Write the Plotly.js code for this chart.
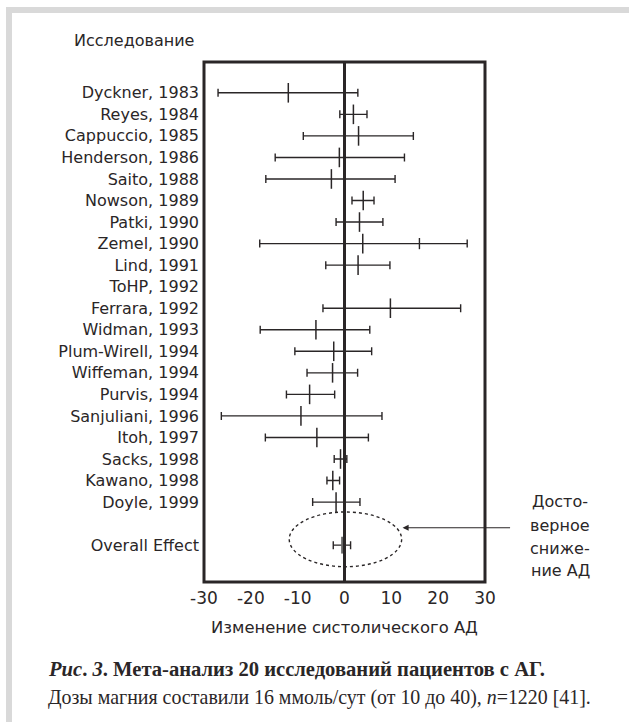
<!DOCTYPE html>
<html>
<head>
<meta charset="utf-8">
<script src="https://cdn.plot.ly/plotly-3.0.1.min.js"></script>
<style>
  html, body { margin: 0; padding: 0; background: #ffffff; }
  #chart { width: 629px; height: 722px; }
</style>
</head>
<body>
<div id="chart"></div>
<script>
// ---- Data ----
const studies = ["Dyckner, 1983","Reyes, 1984","Cappuccio, 1985","Henderson, 1986","Saito, 1988",
  "Nowson, 1989","Patki, 1990","Zemel, 1990","Lind, 1991","ToHP, 1992","Ferrara, 1992",
  "Widman, 1993","Plum-Wirell, 1994","Wiffeman, 1994","Purvis, 1994","Sanjuliani, 1996",
  "Itoh, 1997","Sacks, 1998","Kawano, 1998","Doyle, 1999"];
const estimate = [-12, 1.9, 3, -1.1, -2.8, 4, 3.2, 3.9, 2.9, null, 9.8, -6.1, -2.3, -2.55, -7.45, -9.3, -5.9, -0.85, -2.5, -1.8];
const lower    = [-27, -1, -8.8, -14.8, -16.8, 1.6, -1.8, -18.1, -4, null, -4.6, -18, -10.6, -8, -12.4, -26.3, -16.9, -2.2, -3.75, -6.8];
const upper    = [2.85, 4.8, 14.7, 12.8, 10.8, 6.3, 8.2, 26.2, 9.7, null, 24.8, 5.4, 5.8, 2.8, -2.1, 8, 5.1, 0.5, -1.05, 3.3];
const extraTickStudy = "Zemel, 1990";
const extraTickValue = 16;
const overallLabel = "Overall Effect";
const overallEstimate = -0.4;
const overallLower = -2.4;
const overallUpper = 1.3;
const xTickVals = [-30, -20, -10, 0, 10, 20, 30];
const xTickText = ["-30", "-20", "-10", "0", "10", "20", "30"];
const headerText = "Исследование";
const xTitleText = "Изменение систолического АД";
const noteLines = ["Досто-", "верное", "сниже-", "ние АД"];
const captionLine1 = "<b><i>Рис</i>. <i>3</i>. Мета-анализ 20 исследований пациентов с АГ.</b>";
const captionLine2 = "Дозы магния составили 16 ммоль/сут (от 10 до 40), <i>n</i>=1220 [41].";

// ---- Build ----
const rowIdx = studies.map((_, i) => i);
const overallIdx = studies.length + 1;
const plus = upper.map((u, i) => (u == null ? null : u - estimate[i]));
const minus = lower.map((l, i) => (l == null ? null : estimate[i] - l));

const ink = "#2a2627";
const sans = "DejaVu Sans, Arial, sans-serif";
const serif = "Liberation Serif, Times New Roman, serif";

// pixel -> paper helpers (plot area: x 204..485, y 62..582)
const L = 204, R = 485, T = 62, B = 582, W = 629, H = 722;
const px = v => (v - L) / (R - L);
const py = v => (B - v) / (B - T);

const traces = [
  {
    type: "scatter", mode: "markers",
    x: estimate, y: rowIdx,
    marker: { symbol: "line-ns-open", size: 14, color: ink, line: { width: 1.5, color: ink } },
    error_x: { type: "data", symmetric: false, array: plus, arrayminus: minus,
               color: ink, thickness: 1.4, width: 4 },
    hoverinfo: "x+y"
  },
  {
    type: "scatter", mode: "markers",
    x: [extraTickValue], y: [studies.indexOf(extraTickStudy)],
    marker: { symbol: "line-ns-open", size: 8, color: ink, line: { width: 1.4, color: ink } }
  },
  {
    type: "scatter", mode: "markers",
    x: [overallEstimate], y: [overallIdx],
    marker: { symbol: "line-ns-open", size: 12, color: "#666", line: { width: 3, color: "#666" } },
    error_x: { type: "data", symmetric: false, array: [overallUpper - overallEstimate],
               arrayminus: [overallEstimate - overallLower], color: ink, thickness: 1.4, width: 4 }
  }
];

const annotations = [
  { xref: "paper", yref: "paper", x: px(196), y: py(41), xanchor: "right", yanchor: "middle",
    text: headerText, showarrow: false, font: { family: sans, size: 16, color: ink } },
  // arrow
  { xref: "x", yref: "y", x: 12.4, y: 20.19, ax: 109, ay: 0, text: "", showarrow: true,
    arrowhead: 2, arrowsize: 1.1, arrowwidth: 1.1, arrowcolor: ink },
  { xref: "paper", yref: "paper", x: px(46), y: py(669), xanchor: "left", yanchor: "middle",
    text: captionLine1, showarrow: false, font: { family: serif, size: 20.6, color: ink } },
  { xref: "paper", yref: "paper", x: px(46), y: py(697), xanchor: "left", yanchor: "middle",
    text: captionLine2, showarrow: false, font: { family: serif, size: 19.9, color: ink } }
];
const noteY = [501, 525, 548, 570];
noteLines.forEach((t, i) => annotations.push({
  xref: "paper", yref: "paper", x: px(560), y: py(noteY[i]), xanchor: "center", yanchor: "middle",
  text: t, showarrow: false, font: { family: sans, size: 16, color: ink }
}));

const frame = "#d9d9d9";
const shapes = [
  // grey page frame (L-shape)
  { type: "rect", xref: "paper", yref: "paper", x0: px(6), x1: px(12), y0: py(H), y1: py(7),
    fillcolor: frame, line: { width: 0 }, layer: "below" },
  { type: "rect", xref: "paper", yref: "paper", x0: px(6), x1: px(W), y0: py(13), y1: py(7),
    fillcolor: frame, line: { width: 0 }, layer: "below" },
  // plot box
  { type: "rect", xref: "paper", yref: "paper", x0: 0, x1: 1, y0: 0, y1: 1,
    line: { width: 3, color: ink } },
  // zero line
  { type: "line", xref: "x", yref: "paper", x0: 0, x1: 0, y0: 0, y1: 1,
    line: { width: 3, color: ink } },
  // dotted ellipse around overall effect
  { type: "circle", xref: "x", yref: "y", x0: -11.8, x1: 12.2, y0: 19.46, y1: 22.0,
    line: { width: 1.4, color: ink, dash: "dot" } }
];

const layout = {
  width: W, height: H,
  margin: { l: L, r: W - R, t: T, b: H - B, pad: 0 },
  paper_bgcolor: "#ffffff", plot_bgcolor: "#ffffff",
  showlegend: false,
  xaxis: {
    range: [-30, 30], tickvals: xTickVals, ticktext: xTickText,
    showgrid: false, zeroline: false, showline: false, ticks: "",
    tickfont: { family: sans, size: 17, color: ink },
    ticklabelstandoff: 4,
    title: { text: xTitleText, font: { family: sans, size: 16.4, color: ink }, standoff: 14 },
    fixedrange: true
  },
  yaxis: {
    range: [22.71, -1.43],
    tickvals: rowIdx.concat([overallIdx]),
    ticktext: studies.concat([overallLabel]),
    showgrid: false, zeroline: false, showline: false, ticks: "",
    tickfont: { family: sans, size: 16, color: ink },
    ticklabelstandoff: 4,
    fixedrange: true
  },
  shapes: shapes,
  annotations: annotations
};

Plotly.newPlot("chart", traces, layout, { displayModeBar: false, staticPlot: true });
</script>
</body>
</html>
